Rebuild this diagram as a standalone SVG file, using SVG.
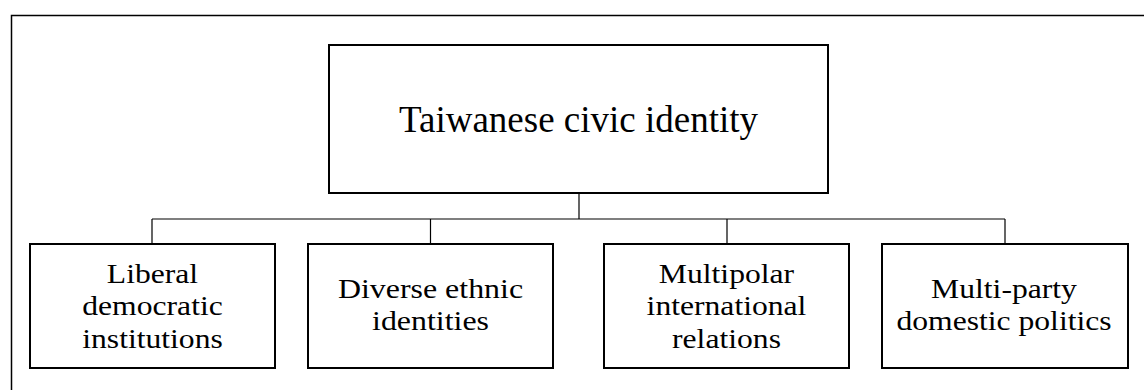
<svg xmlns="http://www.w3.org/2000/svg" width="1144" height="390" viewBox="0 0 1144 390">
<style>
.box{fill:#fff;stroke:#000;stroke-width:2}
.frame{fill:none;stroke:#000;stroke-width:1.5}
.conn{fill:none;stroke:#000;stroke-width:1.2}
text{font-family:"Liberation Serif","Times New Roman",serif;fill:#000;text-anchor:middle}
.t{font-size:37px}
.s{font-size:28px}
</style>
<rect width="1144" height="390" fill="#fff"/>
<path class="frame" d="M11.5,400 V15.5 H1150"/>
<g id="connectors">
<path class="conn" d="M579,193 V219 M152,219 H1005 M152,219 V244 M430.5,219 V244 M727,219 V244 M1005,219 V244"/>
</g>
<g id="root">
<rect class="box" x="329" y="45" width="499" height="148"/>
<text class="t" x="578.5" y="132">Taiwanese civic identity</text>
</g>
<g id="n1">
<rect class="box" x="30" y="244" width="245" height="124"/>
<g transform="translate(152.5,0) scale(1.13,1)">
<text class="s" x="0" y="283">Liberal</text>
<text class="s" x="0" y="315.5">democratic</text>
<text class="s" x="0" y="348">institutions</text>
</g>
</g>
<g id="n2">
<rect class="box" x="308" y="244" width="245" height="124"/>
<g transform="translate(430.5,0) scale(1.14,1)">
<text class="s" x="0" y="298.5">Diverse ethnic</text>
<text class="s" x="0" y="330.5">identities</text>
</g>
</g>
<g id="n3">
<rect class="box" x="604" y="244" width="245" height="124"/>
<g transform="translate(726.5,0) scale(1.13,1)">
<text class="s" x="0" y="283">Multipolar</text>
<text class="s" x="0" y="315.5">international</text>
<text class="s" x="0" y="348">relations</text>
</g>
</g>
<g id="n4">
<rect class="box" x="882" y="244" width="246" height="124"/>
<g transform="translate(1004,0) scale(1.13,1)">
<text class="s" x="0" y="298.5">Multi-party</text>
<text class="s" x="0" y="330.5">domestic politics</text>
</g>
</g>
</svg>
